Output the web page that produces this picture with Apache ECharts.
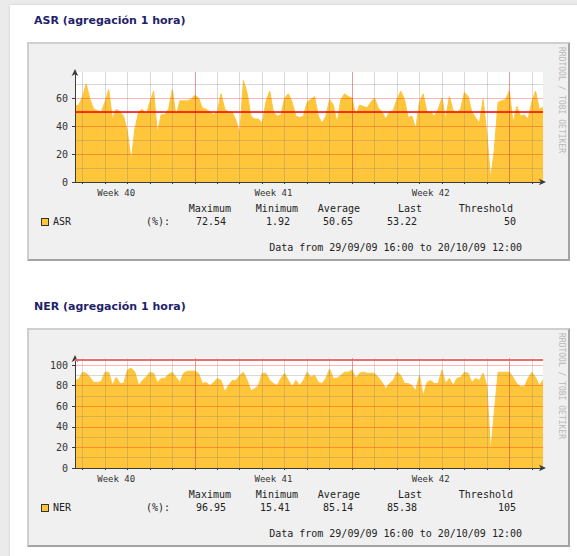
<!DOCTYPE html>
<html>
<head>
<meta charset="utf-8">
<script src="https://cdn.jsdelivr.net/npm/echarts@6/dist/echarts.min.js"></script>
<style>
  html, body { margin: 0; padding: 0; }
  body { width: 577px; height: 556px; position: relative; overflow: hidden; background: #ebebeb; }
  #card { position: absolute; left: 10px; top: 5px; width: 580px; height: 560px; background: #fff; box-shadow: 0 0 3px rgba(0,0,0,0.12); }
  .title { position: absolute; left: 34px; font: bold 11px "DejaVu Sans", Verdana, sans-serif; color: #1f1f6b; white-space: nowrap; }
  .frame { position: absolute; left: 27px; width: 543px; height: 219px; box-sizing: border-box; background: #f0f0f0;
           border: 2px solid; border-color: #cfcfcf #a3a3a3 #a3a3a3 #cfcfcf; }
  .mono { position: absolute; font: 10px "DejaVu Sans Mono", monospace; color: #222; white-space: pre; line-height: 12px; }
  .right { text-align: right; width: 140px; }
  .wide { text-align: right; width: 300px; }
  .swatch { position: absolute; width: 8px; height: 8px; box-sizing: border-box; background: #ffc53b; border: 1px solid #333; }
  .stamp { position: absolute; left: 557px; font: 8px "DejaVu Sans Mono", monospace; color: #b8b8b8; writing-mode: vertical-rl; white-space: nowrap; }
  #chart { position: absolute; left: 0; top: 0; width: 577px; height: 556px; }
</style>
</head>
<body>
<div id="card"></div>
<div id="page"></div>
<div id="chart"></div>
<script>
// 数据：从 29/09/09 16:00 开始，每 4 小时一个点
const STEP_H = 4;
const TOTAL_HOURS = 500;

const asrValues = [
  54, 55, 61, 70, 59, 52, 51, 50, 57, 66, 45, 52, 50, 47, 36, 15, 38, 50, 52, 48,
  57, 65, 35, 48, 48, 52, 66, 47, 58, 58, 58, 59, 62, 60, 53, 52, 50, 48, 50, 63,
  52, 50, 50, 44, 35, 72.5, 63, 47, 45, 45, 42, 57, 65, 50, 47, 48, 60, 63, 57, 47,
  46, 47, 57, 59, 61, 47, 42, 47, 59, 55, 42, 59, 63, 61, 60, 47, 55, 54, 53, 57,
  60, 53, 50, 45, 50, 51, 59, 65, 59, 46, 47, 38, 57, 63, 50, 50, 47, 52, 60, 45,
  61, 51, 50, 52, 64, 61, 50, 46, 42, 59, 35, 1.9, 23, 57, 58, 59, 65, 42, 54, 47,
  48, 45, 57, 65, 52, 53.2
];

const nerValues = [
  85, 86, 93, 92, 88, 83, 83, 84, 93, 93, 80, 88, 82, 82, 95, 97, 93, 80, 85, 88,
  93, 92, 83, 87, 87, 91, 93, 88, 83, 92, 94, 94, 94, 92, 82, 83, 80, 83, 87, 85,
  74, 80, 85, 85, 90, 93, 85, 75, 77, 80, 92, 92, 85, 82, 80, 87, 92, 85, 79, 85,
  80, 85, 93, 88, 90, 83, 82, 87, 96, 87, 87, 90, 93, 93, 95, 87, 92, 93, 92, 92,
  92, 88, 83, 77, 82, 85, 93, 90, 82, 82, 80, 75, 90, 70, 83, 85, 82, 82, 95, 82,
  87, 80, 87, 88, 93, 92, 83, 87, 85, 92, 80, 15.4, 54, 93, 93, 93, 93, 88, 82, 79,
  79, 87, 93, 88, 80, 85.4
];

// 时间轴（小时，相对起点）
const dayLines = [8, 32, 56, 80, 104, 128, 152, 176, 200, 224, 248, 272, 296, 320, 344, 368, 392, 416, 440, 464, 488];
const weekLines = [128, 296, 464];
const weekLabelAt = [44, 212, 380];
const weekNames = ['Week 40', 'Week 41', 'Week 42'];

const asrMajor = [0, 20, 40, 60];
const asrMinor = [10, 30, 50, 70];
const nerMajor = [0, 20, 40, 60, 80, 100];
const nerMinor = [10, 30, 50, 70, 90];

const titles = ['ASR (agregación 1 hora)', 'NER (agregación 1 hora)'];
const seriesNames = ['ASR', 'NER'];
const statNames = ['Maximum', 'Minimum', 'Average', 'Last', 'Threshold'];
const asrStats = ['72.54', '1.92', '50.65', '53.22', '50'];
const nerStats = ['96.95', '15.41', '85.14', '85.38', '105'];
const dataRange = 'Data from 29/09/09 16:00 to 20/10/09 12:00';

const AREA_COLOR = '#ffc53b';
const AXIS_COLOR = '#3c3c3c';
const GRID_COLOR = 'rgba(130, 130, 130, 0.3)';
const MGRID_COLOR = 'rgba(255, 0, 0, 0.28)';
const MONO = 'DejaVu Sans Mono';

// 页面外框、标题、图例（HTML 文本）
const FRAME_TOP = [42, 328];
const HEAD_RIGHT = [231, 298, 360, 422, 513];
const VALUE_RIGHT = [226, 290, 353, 417, 516];

function addDiv(cls, css, text) {
  let d = document.createElement('div');
  d.className = cls;
  d.style.cssText = css;
  if (text !== undefined) {
    d.textContent = text;
  }
  document.getElementById('page').appendChild(d);
  return d;
}

function buildFrame(i, stats) {
  let top = FRAME_TOP[i];
  addDiv('title', `top:${top - 28}px`, titles[i]);
  addDiv('frame', `top:${top}px`);
  addDiv('stamp', `top:${top + 5}px`, 'RRDTOOL / TOBI OETIKER');
  for (let j = 0; j < statNames.length; j += 1) {
    addDiv('mono right', `left:${HEAD_RIGHT[j] - 140}px;top:${top + 161}px`, statNames[j]);
    addDiv('mono right', `left:${VALUE_RIGHT[j] - 140}px;top:${top + 174}px`, stats[j]);
  }
  addDiv('swatch', `left:41px;top:${top + 176}px`);
  addDiv('mono', `left:53px;top:${top + 174}px`, seriesNames[i]);
  addDiv('mono', `left:146px;top:${top + 174}px`, '(%):');
  addDiv('mono wide', `left:${522 - 300}px;top:${top + 200}px`, dataRange);
}

buildFrame(0, asrStats);
buildFrame(1, nerStats);

// ECharts 部分：两个绘图区
const GRIDS = [
  { left: 75, top: 72, width: 468, height: 110 },
  { left: 75, top: 358, width: 468, height: 110 }
];

function makeXAxes(gridIndex) {
  let base = { type: 'value', gridIndex: gridIndex, min: 0, max: TOTAL_HOURS, position: 'bottom', z: 5 };
  return [
    Object.assign({}, base, {
      axisLine: {
        show: true, symbol: ['none', 'arrow'], symbolSize: [5, 7], symbolOffset: [0, 3],
        lineStyle: { color: AXIS_COLOR, width: 1 }
      },
      axisTick: { show: true, customValues: dayLines, length: 2, lineStyle: { color: AXIS_COLOR } },
      axisLabel: { show: false },
      splitLine: { show: true, lineStyle: { color: GRID_COLOR, width: 1 } }
    }),
    Object.assign({}, base, {
      axisLine: { show: false },
      axisTick: { show: false, customValues: weekLines },
      axisLabel: { show: false },
      splitLine: { show: true, lineStyle: { color: MGRID_COLOR, width: 1 } }
    }),
    Object.assign({}, base, {
      axisLine: { show: false },
      axisTick: { show: false, customValues: weekLabelAt },
      axisLabel: {
        show: true, customValues: weekLabelAt, margin: 6,
        fontFamily: MONO, fontSize: 9, color: '#333',
        formatter: function(value) {
          return weekNames[weekLabelAt.indexOf(value)] || '';
        }
      },
      splitLine: { show: false }
    })
  ];
}

function makeYAxes(gridIndex, yMax, majors, minors) {
  let base = { type: 'value', gridIndex: gridIndex, min: 0, max: yMax, position: 'left', z: 5 };
  return [
    Object.assign({}, base, {
      axisLine: {
        show: true, symbol: ['none', 'arrow'], symbolSize: [5, 7], symbolOffset: [0, 3],
        lineStyle: { color: AXIS_COLOR, width: 1 }
      },
      axisTick: { show: true, customValues: majors, length: 3, lineStyle: { color: AXIS_COLOR } },
      axisLabel: { customValues: majors, margin: 7, fontFamily: MONO, fontSize: 10, color: '#333' },
      splitLine: { show: true, lineStyle: { color: MGRID_COLOR, width: 1 } }
    }),
    Object.assign({}, base, {
      axisLine: { show: false },
      axisTick: { show: false, customValues: minors },
      axisLabel: { show: false },
      splitLine: { show: true, lineStyle: { color: GRID_COLOR, width: 1 } }
    })
  ];
}

function makeArea(name, values, xIdx, yIdx, threshold, ruleStyle) {
  return {
    name: name,
    type: 'line',
    z: -1,
    xAxisIndex: xIdx,
    yAxisIndex: yIdx,
    data: values.map((v, i) => [i * STEP_H, v]),
    symbol: 'none',
    smooth: false,
    lineStyle: { color: AREA_COLOR, width: 1 },
    areaStyle: { color: AREA_COLOR, opacity: 1 },
    silent: true,
    animation: false,
    markLine: {
      silent: true,
      symbol: 'none',
      z: 6,
      label: { show: false },
      lineStyle: ruleStyle,
      data: [{ yAxis: threshold }]
    }
  };
}

let myChart = echarts.init(document.getElementById('chart'), null, { renderer: 'svg' });
myChart.setOption({
  backgroundColor: 'transparent',
  animation: false,
  grid: GRIDS.map(g => Object.assign({ show: true, z: -3, backgroundColor: '#fff', borderWidth: 0 }, g)),
  xAxis: makeXAxes(0).concat(makeXAxes(1)),
  yAxis: makeYAxes(0, 110 / 1.4, asrMajor, asrMinor).concat(makeYAxes(1, 110 / 1.03, nerMajor, nerMinor)),
  series: [
    makeArea('ASR', asrValues, 0, 0, 50, { color: '#ff0000', width: 1.5, type: 'solid' }),
    makeArea('NER', nerValues, 3, 2, 105, { color: '#ef6a6a', width: 2, type: 'solid' })
  ]
});
</script>
</body>
</html>
